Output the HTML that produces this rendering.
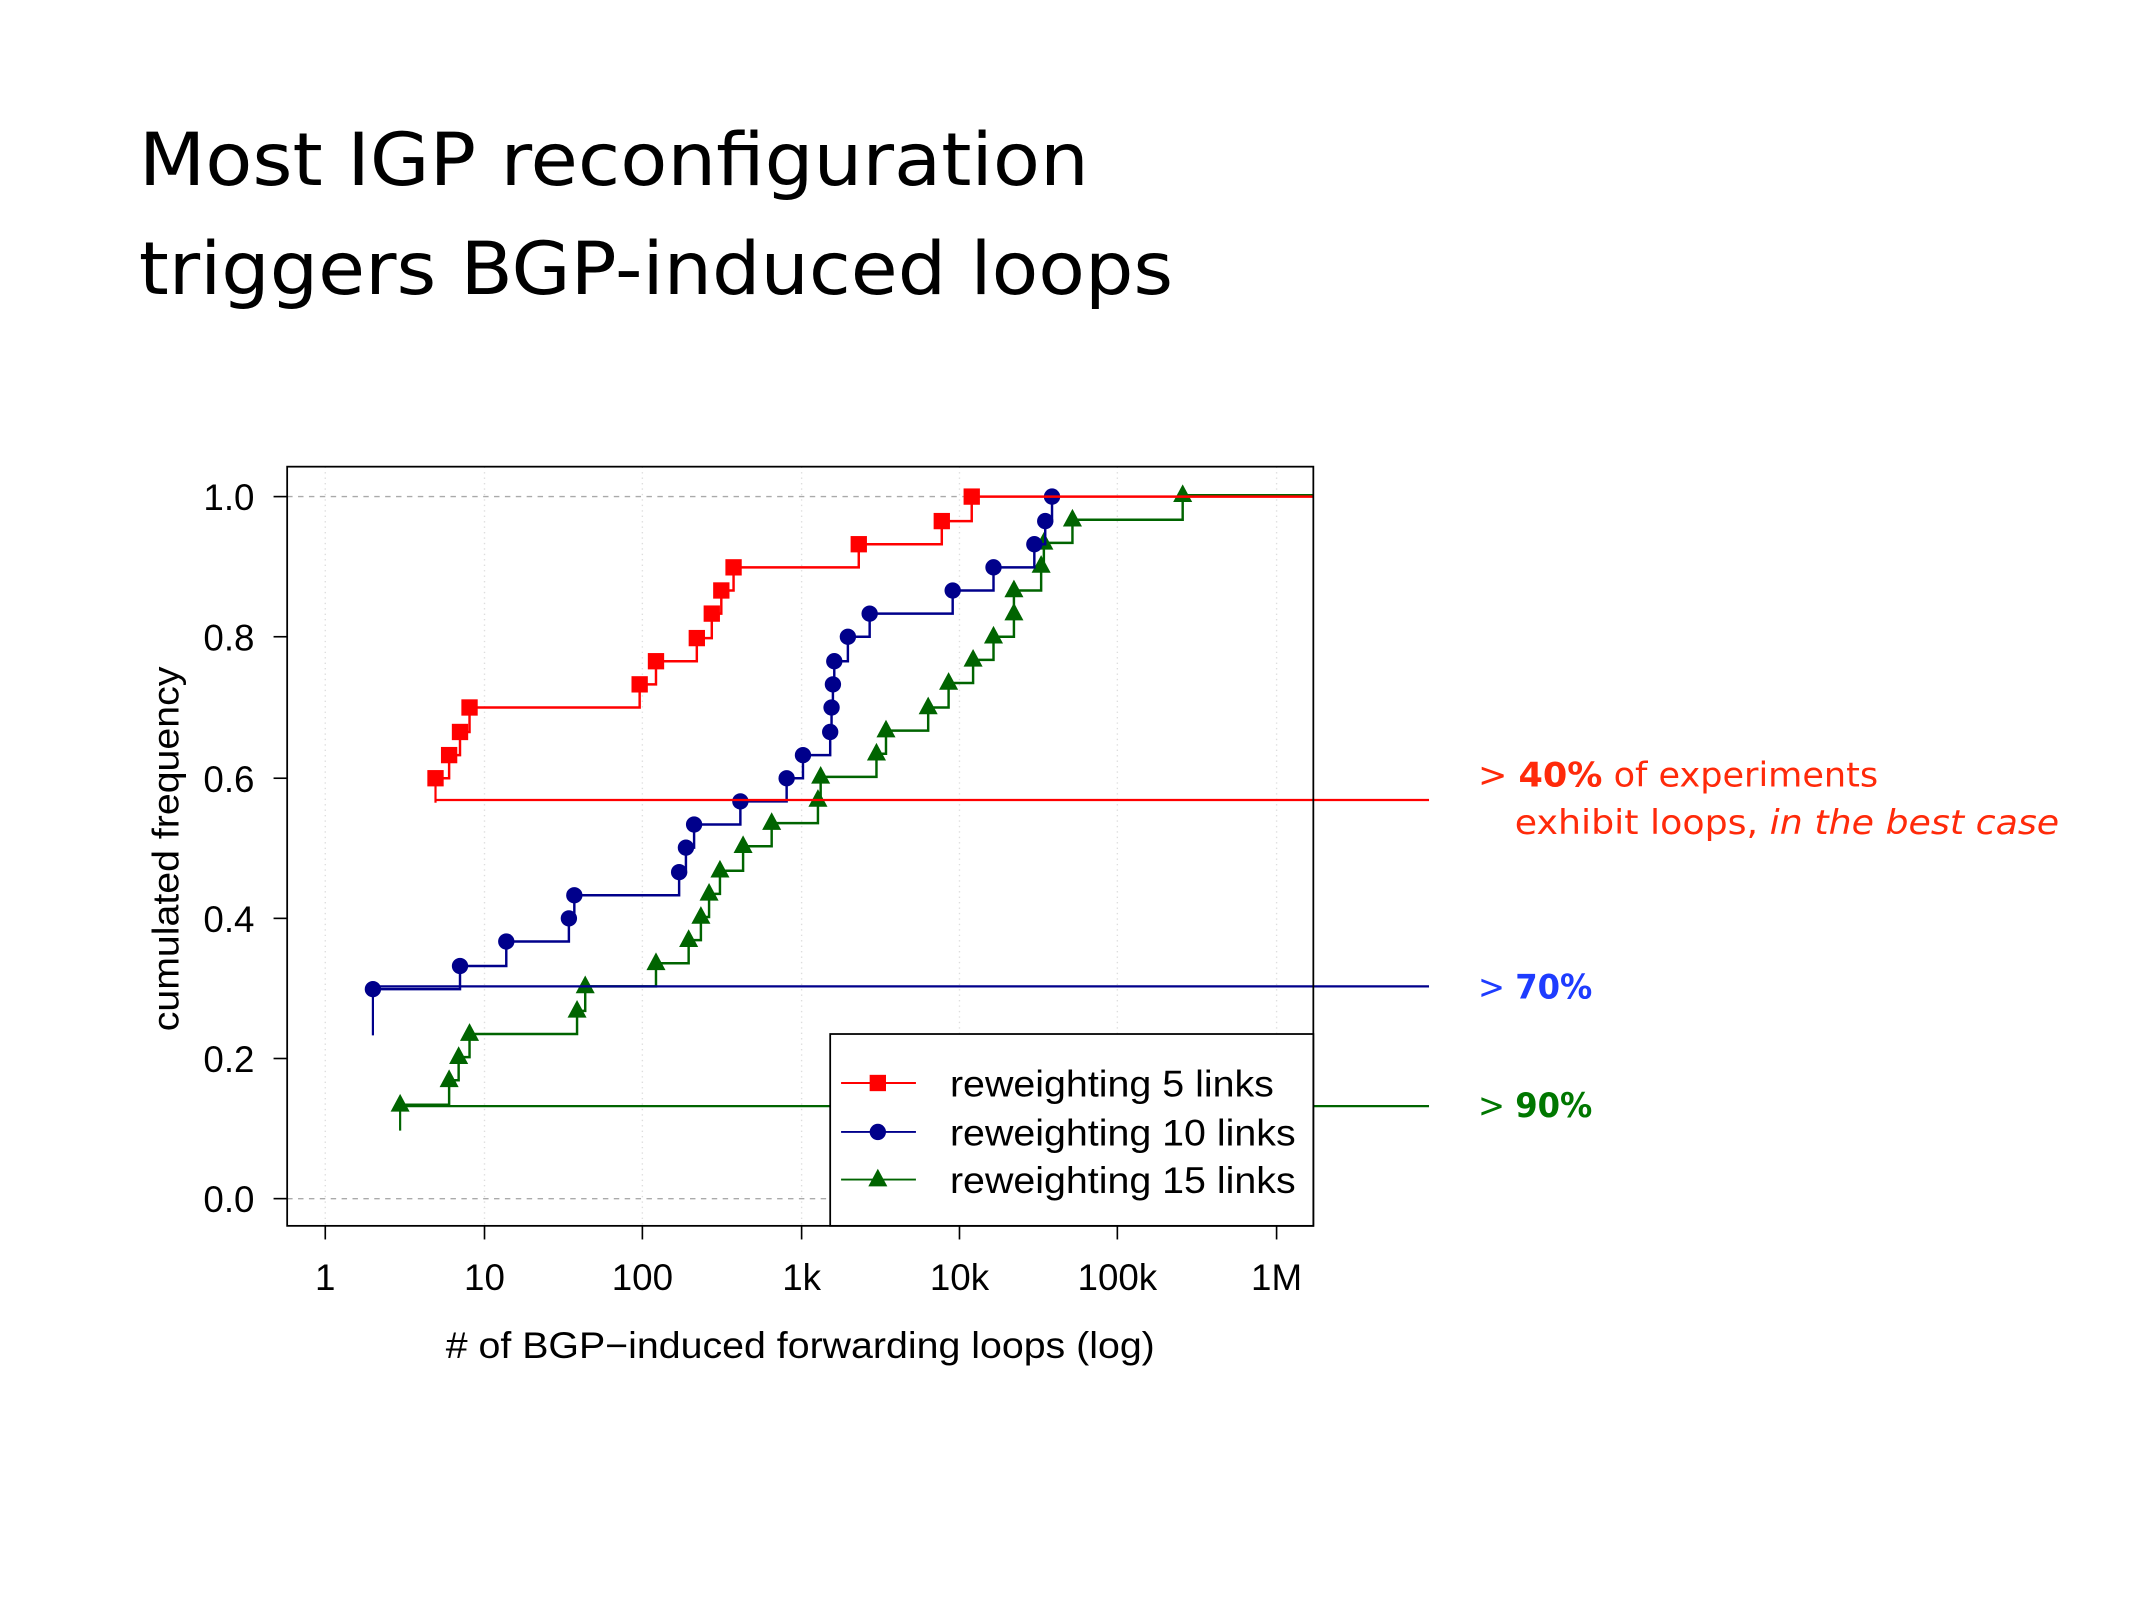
<!DOCTYPE html>
<html><head><meta charset="utf-8"><style>
html,body{margin:0;padding:0;background:#fff;}
svg{display:block;}
</style></head><body>
<svg id="s" width="2134" height="1600" viewBox="0 0 1568 1176" preserveAspectRatio="none" xmlns="http://www.w3.org/2000/svg">
<rect width="1568" height="1176" fill="#fff"/>
<g font-family="DejaVu Sans, sans-serif" font-size="54" fill="#000">
<text x="102" y="136" textLength="698" lengthAdjust="spacingAndGlyphs">Most IGP reconfiguration</text>
<text x="102" y="216" textLength="760" lengthAdjust="spacingAndGlyphs">triggers BGP-induced loops</text>
</g>
<g id="grid" stroke="#ddd" stroke-width="1" stroke-dasharray="1,3">
<line x1="239" y1="343" x2="239" y2="901"/><line x1="356" y1="343" x2="356" y2="901"/>
<line x1="472" y1="343" x2="472" y2="901"/><line x1="589" y1="343" x2="589" y2="901"/>
<line x1="705" y1="343" x2="705" y2="901"/><line x1="821" y1="343" x2="821" y2="901"/>
<line x1="938" y1="343" x2="938" y2="901"/>
</g>
<g stroke="#aaa" stroke-width="1" stroke-dasharray="4,4">
<line x1="211" y1="365" x2="965" y2="365"/><line x1="211" y1="881" x2="965" y2="881"/>
</g>
<g id="series"></g>
<rect x="211" y="343" width="754" height="558" fill="none" stroke="#000" stroke-width="1.3"/>
<g stroke="#000" stroke-width="1.2">
<line x1="201" y1="365" x2="211" y2="365"/><line x1="201" y1="468" x2="211" y2="468"/>
<line x1="201" y1="572" x2="211" y2="572"/><line x1="201" y1="675" x2="211" y2="675"/>
<line x1="201" y1="778" x2="211" y2="778"/><line x1="201" y1="881" x2="211" y2="881"/>
<line x1="239" y1="901" x2="239" y2="911"/><line x1="356" y1="901" x2="356" y2="911"/>
<line x1="472" y1="901" x2="472" y2="911"/><line x1="589" y1="901" x2="589" y2="911"/>
<line x1="705" y1="901" x2="705" y2="911"/><line x1="821" y1="901" x2="821" y2="911"/>
<line x1="938" y1="901" x2="938" y2="911"/>
</g>
<g font-family="Liberation Sans, sans-serif" font-size="27" fill="#000">
<g text-anchor="end">
<text x="187" y="375">1.0</text><text x="187" y="478">0.8</text><text x="187" y="582">0.6</text>
<text x="187" y="685">0.4</text><text x="187" y="788">0.2</text><text x="187" y="891">0.0</text>
</g>
<g text-anchor="middle">
<text x="239" y="948">1</text><text x="356" y="948">10</text><text x="472" y="948">100</text>
<text x="589" y="948">1k</text><text x="705" y="948">10k</text><text x="821" y="948">100k</text>
<text x="938" y="948">1M</text>
<text x="588" y="998" textLength="521" lengthAdjust="spacingAndGlyphs"># of BGP−induced forwarding loops (log)</text>
<text transform="translate(131,624) rotate(-90)" textLength="268" lengthAdjust="spacingAndGlyphs">cumulated frequency</text>
</g>
</g>
<g id="legend">
<rect x="610" y="760" width="355" height="141" fill="#fff" stroke="#000" stroke-width="1.3"/>
<g font-family="Liberation Sans, sans-serif" font-size="27" fill="#000">
<text x="698" y="806" textLength="238" lengthAdjust="spacingAndGlyphs">reweighting 5 links</text>
<text x="698" y="842" textLength="254" lengthAdjust="spacingAndGlyphs">reweighting 10 links</text>
<text x="698" y="877" textLength="254" lengthAdjust="spacingAndGlyphs">reweighting 15 links</text>
</g>
</g>
<g font-family="DejaVu Sans, sans-serif" font-size="25">
<text x="1086" y="578" fill="#ff2a0a" textLength="294" lengthAdjust="spacingAndGlyphs">&gt; <tspan font-weight="bold">40%</tspan> of experiments</text>
<text x="1113" y="613" fill="#ff2a0a" textLength="400" lengthAdjust="spacingAndGlyphs">exhibit loops, <tspan font-style="italic">in the best case</tspan></text>
<text x="1086" y="734" fill="#1e3cff" textLength="84" lengthAdjust="spacingAndGlyphs">&gt; <tspan font-weight="bold">70%</tspan></text>
<text x="1086" y="821" fill="#007700" textLength="84" lengthAdjust="spacingAndGlyphs">&gt; <tspan font-weight="bold">90%</tspan></text>
</g>
</svg>
<script>
var NS="http://www.w3.org/2000/svg";
var g=document.getElementById('series');
function el(t,a,p){var e=document.createElementNS(NS,t);for(var k in a)e.setAttribute(k,a[k]);(p||g).appendChild(e);return e;}
function series(pts,col,baseY,vx,vy0,shape,endX){
 el('line',{x1:vx,y1:baseY,x2:1050,y2:baseY,stroke:col,'stroke-width':1.6});
 el('line',{x1:vx,y1:vy0,x2:vx,y2:pts[0][1],stroke:col,'stroke-width':1.6});
 var d='M'+pts[0][0]+','+pts[0][1];
 for(var i=1;i<pts.length;i++){d+=' H'+pts[i][0]+' V'+pts[i][1];}
 d+=' H'+endX;
 el('path',{d:d,fill:'none',stroke:col,'stroke-width':1.8});
 pts.forEach(function(p){marker(p[0],p[1],col,shape);});
}
function marker(x,y,col,shape,par){
 if(shape=='s')el('rect',{x:x-6,y:y-6,width:12,height:12,fill:col},par);
 else if(shape=='c')el('circle',{cx:x,cy:y,r:6,fill:col},par);
 else el('polygon',{points:(x)+','+(y-8)+' '+(x-7)+','+(y+5)+' '+(x+7)+','+(y+5),fill:col},par);
}
var red=[[320,572],[330,555],[338,538],[345,520],[470,503],[482,486],[512,469],[523,451],[530,434],[539,417],[631,400],[692,383],[714,365]];
var blue=[[274,727],[338,710],[372,692],[418,675],[422,658],[499,641],[504,623],[510,606],[544,589],[578,572],[590,555],[610,538],[611,520],[612,503],[613,486],[623,468],[639,451],[700,434],[730,417],[760,400],[768,383],[773,365]];
var green=[[294,812],[330,794],[337,777],[345,760],[424,743],[430,725],[482,708],[506,691],[515,674],[521,657],[529,640],[546,622],[567,605],[601,588],[603,571],[644,554],[651,537],[682,520],[697,502],[715,485],[730,468],[745,451],[745,434],[765,416],[767,399],[788,382],[869,364]];
series(green,'#006400',813,294,831,'t',965);
series(blue,'#00008b',725,274,761,'c',773);
series(red,'#ff0000',588,320,590,'s',965);
var lg=document.getElementById('legend');
[[796,'#ff0000','s'],[832,'#00008b','c'],[867,'#006400','t']].forEach(function(r){
 el('line',{x1:618,y1:r[0],x2:673,y2:r[0],stroke:r[1],'stroke-width':1.4},lg);
 marker(645,r[0],r[1],r[2],lg);
});
</script>
</body></html>
